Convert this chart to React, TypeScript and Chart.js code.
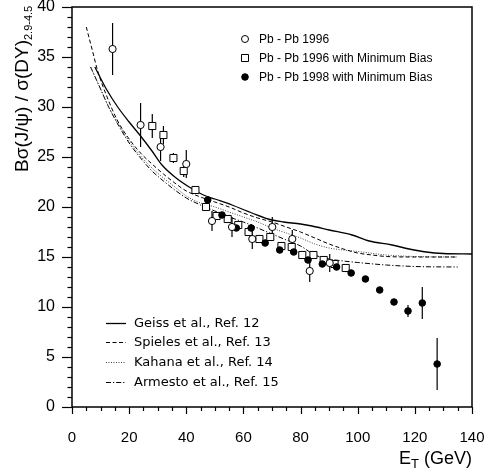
import React, { useEffect, useRef } from "react";
import { Chart, registerables } from "chart.js";
Chart.register(...registerables);

// ---- Data ----
const pb96X = [14.2, 24.0, 31.0, 40.0, 49.0, 56.0, 63.1, 70.1, 77.1, 83.2, 90.2];
const pb96Y = [35.8, 28.2, 26.0, 24.3, 18.6, 18.0, 16.8, 18.0, 16.8, 13.6, 14.4];
const pb96Err = [2.6, 2.2, 1.4, 1.4, 1.0, 1.0, 1.0, 1.0, 0.9, 1.1, 0.9];

const mb96X = [28.1, 32.0, 35.5, 39.1, 43.2, 46.9, 50.6, 54.5, 58.2, 61.8, 65.6, 69.4, 73.3, 76.9, 80.6, 84.5, 88.1, 91.9, 95.8];
const mb96Y = [28.1, 27.2, 24.9, 23.6, 21.7, 20.0, 19.1, 18.8, 18.2, 17.5, 16.8, 17.0, 16.1, 16.0, 15.2, 15.2, 14.7, 14.3, 13.9];
const mb96Err = [1.2, 0.9, 0.5, 0.6, 0.3, 0.3, 0.3, 0.3, 0.3, 0.3, 0.3, 0.3, 0.3, 0.3, 0.3, 0.3, 0.3, 0.3, 0.3];

const mb98X = [47.5, 52.5, 57.5, 62.7, 67.6, 72.7, 77.6, 82.6, 87.6, 92.6, 97.7, 102.7, 107.7, 112.7, 117.6, 122.6, 127.8];
const mb98Y = [20.7, 19.2, 17.9, 17.9, 16.4, 15.7, 15.5, 14.7, 14.3, 14.0, 13.4, 12.8, 11.7, 10.5, 9.6, 10.4, 4.3];
const mb98Err = [0.4, 0.3, 0.3, 0.4, 0.3, 0.3, 0.3, 0.3, 0.3, 0.3, 0.3, 0.3, 0.3, 0.3, 0.6, 1.6, 2.6];

const geissX = [8, 12, 16, 20, 24, 28, 31.5, 36, 41, 46, 50, 56, 63, 70, 74, 80, 84, 90, 98, 104, 112, 118, 124, 130, 140];
const geissY = [34.0, 31.8, 30.0, 28.5, 27.1, 25.6, 24.2, 23.0, 22.0, 21.2, 20.8, 20.2, 19.4, 18.7, 18.5, 18.3, 18.1, 17.7, 17.2, 16.6, 16.2, 15.8, 15.5, 15.35, 15.3];

const spielesX = [5, 7, 9, 12, 16, 20, 24, 28, 32, 36, 40, 45, 50, 55, 60, 65, 70, 75, 80, 85, 90, 95, 100, 105, 110, 120, 135];
const spielesY = [38.0, 35.8, 33.6, 31.2, 28.6, 26.8, 25.4, 24.3, 23.3, 22.4, 21.6, 21.0, 20.5, 20.0, 19.4, 18.9, 18.5, 18.0, 17.5, 16.9, 16.3, 15.8, 15.4, 15.2, 15.05, 15.0, 15.0];

const kahanaX = [6.5, 10, 13, 16, 20, 24, 28, 32, 36, 40, 45, 50, 55, 60, 65, 70, 75, 80, 85, 90, 95, 100, 110, 120, 135];
const kahanaY = [34.0, 31.8, 29.9, 28.4, 26.6, 25.1, 23.9, 22.9, 22.0, 21.1, 20.4, 20.0, 19.5, 19.0, 18.5, 17.9, 17.4, 16.9, 16.3, 15.9, 15.7, 15.55, 15.2, 15.05, 15.0];

const armestoX = [6.5, 10, 13, 16, 20, 24, 28, 32, 36, 40, 45, 50, 55, 60, 65, 70, 75, 80, 85, 90, 95, 100, 110, 120, 135];
const armestoY = [34.0, 31.8, 29.9, 28.3, 26.4, 24.9, 23.6, 22.6, 21.7, 20.9, 20.2, 19.6, 19.0, 18.5, 17.9, 17.3, 16.7, 16.1, 15.2, 14.8, 14.6, 14.45, 14.2, 14.05, 14.0];

const markerLabels = ["Pb - Pb 1996", "Pb - Pb 1996 with Minimum Bias", "Pb - Pb 1998 with Minimum Bias"];
const curveLabels = ["Geiss et al., Ref. 12", "Spieles et al., Ref. 13", "Kahana et al., Ref. 14", "Armesto et al., Ref. 15"];
const xTitleMain = "E";
const xTitleSub = "T";
const xTitleRest = " (GeV)";
const yTitleMain = "Bσ(J/ψ) / σ(DY)";
const yTitleSub = "2.9-4.5";

const SANS = '"Liberation Sans", Arial, Helvetica, sans-serif';
const LEG2 = '"DejaVu Sans", "Liberation Sans", sans-serif';

const pts = (xs: number[], ys: number[]) => xs.map((x, i) => ({ x, y: ys[i] }));

const curveStyles = [
  { dash: [] as number[], width: 1.3, color: "#000" },
  { dash: [4, 2.5], width: 1, color: "#000" },
  { dash: [1, 1.5], width: 1, color: "#444" },
  { dash: [5, 2, 1.2, 2], width: 1, color: "#000" },
];

const decorPlugin = {
  id: "decor",
  beforeDatasetsDraw(chart: any) {
    const { ctx, scales } = chart;
    const xs = scales.x, ys = scales.y;
    ctx.save();
    ctx.strokeStyle = "#000";
    ctx.lineWidth = 1.2;
    const series = [
      [pb96X, pb96Y, pb96Err],
      [mb96X, mb96Y, mb96Err],
      [mb98X, mb98Y, mb98Err],
    ];
    for (const [X, Y, E] of series) {
      for (let i = 0; i < X.length; i++) {
        const px = xs.getPixelForValue(X[i]);
        ctx.beginPath();
        ctx.moveTo(px, ys.getPixelForValue(Y[i] - E[i]));
        ctx.lineTo(px, ys.getPixelForValue(Y[i] + E[i]));
        ctx.stroke();
      }
    }
    ctx.restore();
  },
  afterDraw(chart: any) {
    const { ctx, chartArea: a, scales } = chart;
    const xs = scales.x, ys = scales.y;
    ctx.save();
    // frame
    ctx.strokeStyle = "#000";
    ctx.lineWidth = 1.5;
    ctx.strokeRect(a.left, a.top, a.right - a.left, a.bottom - a.top);
    // y ticks
    ctx.lineWidth = 1.2;
    for (let v = 0; v <= 40; v += 1) {
      const py = Math.round(ys.getPixelForValue(v)) + 0.5;
      const len = v % 5 === 0 ? 10 : 4.5;
      ctx.beginPath();
      ctx.moveTo(a.left - len, py);
      ctx.lineTo(a.left, py);
      ctx.stroke();
    }
    // x ticks
    for (let v = 0; v <= 140; v += 5) {
      const px = Math.round(xs.getPixelForValue(v)) + 0.5;
      const len = v % 20 === 0 ? 7 : 4;
      ctx.beginPath();
      ctx.moveTo(px, a.bottom);
      ctx.lineTo(px, a.bottom + len);
      ctx.stroke();
    }
    // x title
    ctx.fillStyle = "#000";
    ctx.textBaseline = "alphabetic";
    ctx.textAlign = "left";
    ctx.font = `18px ${SANS}`;
    const wE = ctx.measureText(xTitleMain).width;
    const wR = ctx.measureText(xTitleRest).width;
    ctx.font = `13px ${SANS}`;
    const wT = ctx.measureText(xTitleSub).width;
    const sx = a.right - (wE + wT + wR);
    ctx.font = `18px ${SANS}`;
    ctx.fillText(xTitleMain, sx, 463.5);
    ctx.font = `13px ${SANS}`;
    ctx.fillText(xTitleSub, sx + wE, 467.5);
    ctx.font = `18px ${SANS}`;
    ctx.fillText(xTitleRest, sx + wE + wT, 463.5);
    // y title
    ctx.save();
    ctx.translate(28, 172);
    ctx.rotate(-Math.PI / 2);
    ctx.font = `19px ${SANS}`;
    ctx.fillText(yTitleMain, 0, 0);
    const wM = ctx.measureText(yTitleMain).width;
    ctx.font = `11px ${SANS}`;
    ctx.fillText(yTitleSub, wM, 4);
    ctx.restore();
    // top legend (markers)
    const rows1 = [39, 58, 77];
    ctx.font = `12px ${SANS}`;
    ctx.textBaseline = "middle";
    ctx.lineWidth = 1;
    for (let i = 0; i < 3; i++) {
      const cx = 245, cy = rows1[i];
      ctx.beginPath();
      if (i === 1) {
        ctx.rect(cx - 3.5, cy - 3.5, 7, 7);
        ctx.fillStyle = "#fff";
        ctx.fill();
        ctx.stroke();
      } else {
        ctx.arc(cx, cy, i === 0 ? 3.5 : 3.3, 0, Math.PI * 2);
        ctx.fillStyle = i === 0 ? "#fff" : "#000";
        ctx.fill();
        ctx.stroke();
      }
      ctx.fillStyle = "#000";
      ctx.fillText(markerLabels[i], 259, cy + 0.5);
    }
    // bottom legend (curves)
    const rows2 = [323, 342, 362, 382];
    ctx.font = `13px ${LEG2}`;
    for (let i = 0; i < 4; i++) {
      const st = curveStyles[i];
      ctx.strokeStyle = st.color;
      ctx.lineWidth = st.width;
      ctx.setLineDash(st.dash);
      ctx.beginPath();
      ctx.moveTo(106, rows2[i] + 0.5);
      ctx.lineTo(126, rows2[i] + 0.5);
      ctx.stroke();
      ctx.setLineDash([]);
      ctx.fillStyle = "#000";
      ctx.fillText(curveLabels[i], 134, rows2[i] + 0.5);
    }
    ctx.restore();
  },
};

export default function App() {
  const ref = useRef<HTMLCanvasElement>(null);
  useEffect(() => {
    if (!ref.current) return;
    const curves = [
      [geissX, geissY],
      [spielesX, spielesY],
      [kahanaX, kahanaY],
      [armestoX, armestoY],
    ];
    const lineSets = curves.map(([X, Y], i) => ({
      type: "line" as const,
      label: curveLabels[i],
      data: pts(X, Y),
      borderColor: curveStyles[i].color,
      borderWidth: curveStyles[i].width,
      borderDash: curveStyles[i].dash,
      pointRadius: 0,
      fill: false,
      cubicInterpolationMode: "monotone" as const,
      order: 2,
    }));
    const chart = new Chart(ref.current, {
      type: "scatter",
      data: {
        datasets: [
          {
            label: markerLabels[0],
            data: pts(pb96X, pb96Y),
            pointStyle: "circle",
            pointRadius: 3.6,
            borderColor: "#000",
            backgroundColor: "#fff",
            borderWidth: 1,
            order: 0,
          },
          {
            label: markerLabels[1],
            data: pts(mb96X, mb96Y),
            pointStyle: "rect",
            pointRadius: 5,
            borderColor: "#000",
            backgroundColor: "#fff",
            borderWidth: 1,
            order: 1,
          },
          {
            label: markerLabels[2],
            data: pts(mb98X, mb98Y),
            pointStyle: "circle",
            pointRadius: 3.3,
            borderColor: "#000",
            backgroundColor: "#000",
            borderWidth: 1,
            order: 0,
          },
          ...lineSets,
        ] as any,
      },
      options: {
        animation: false,
        responsive: false,
        layout: { autoPadding: false, padding: { left: 0, top: 7, right: 15, bottom: 0 } } as any,
        plugins: { legend: { display: false }, tooltip: { enabled: false } },
        scales: {
          x: {
            type: "linear",
            position: "bottom",
            min: 0,
            max: 140,
            ticks: { stepSize: 20, color: "#000", font: { family: SANS, size: 15 }, padding: 0, maxRotation: 0 },
            grid: { display: true, drawOnChartArea: false, drawTicks: true, tickLength: 22, tickColor: "rgba(0,0,0,0)" },
            border: { display: false },
            afterFit: (s: any) => { s.height = 62; },
          },
          y: {
            type: "linear",
            min: 0,
            max: 40,
            ticks: { stepSize: 5, color: "#000", font: { family: SANS, size: 16, lineHeight: 0.8 }, padding: 0 },
            grid: { display: true, drawOnChartArea: false, drawTicks: true, tickLength: 17, tickColor: "rgba(0,0,0,0)" },
            border: { display: false },
            afterFit: (s: any) => { s.width = 72; },
          },
        },
      } as any,
      plugins: [decorPlugin],
    });
    return () => chart.destroy();
  }, []);
  return (
    <div style={{ position: "absolute", left: 0, top: 0, width: 487, height: 469, background: "#fff" }}>
      <canvas ref={ref} width={487} height={469} />
    </div>
  );
}
